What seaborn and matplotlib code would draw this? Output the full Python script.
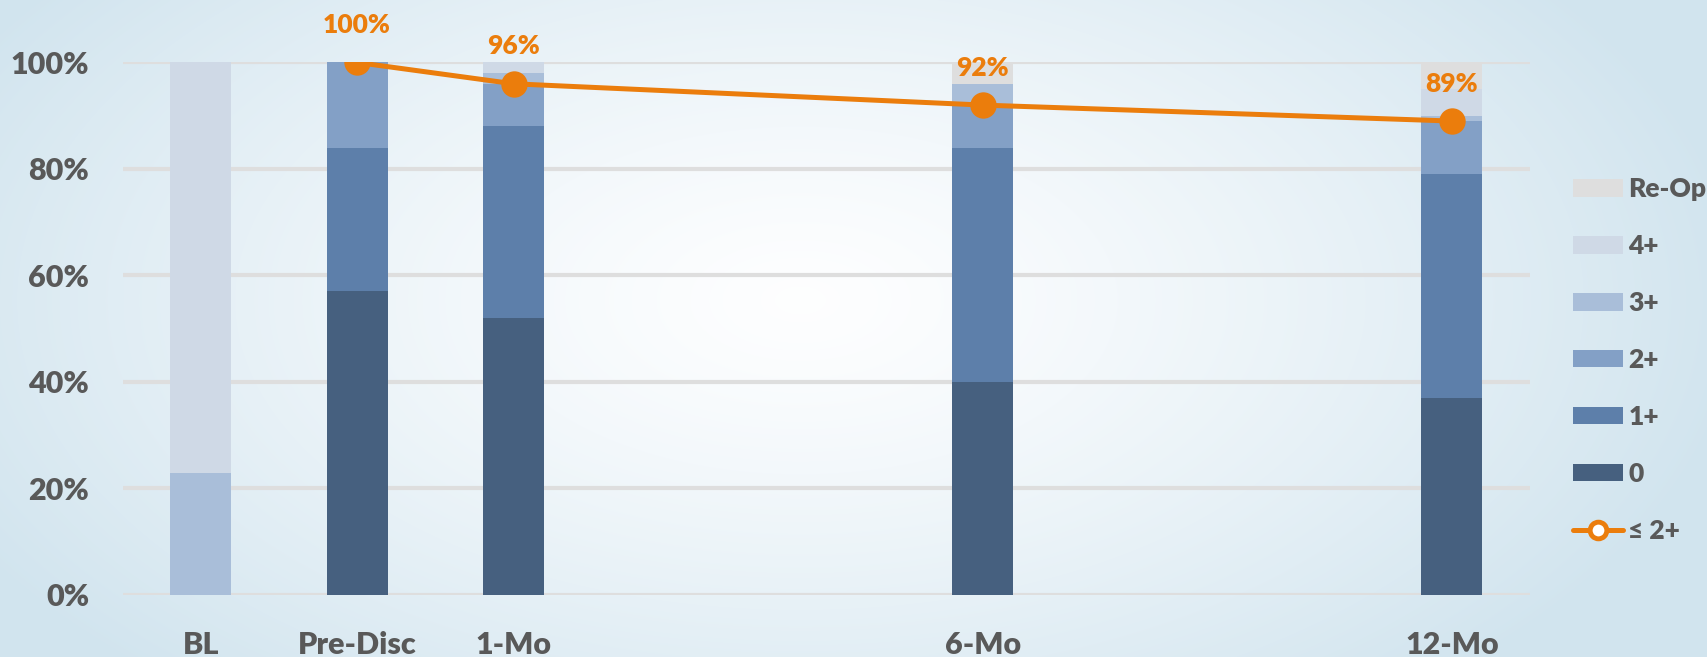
import numpy as np
import pandas as pd
import matplotlib
matplotlib.use("Agg")
import matplotlib.pyplot as plt
from matplotlib.patches import Patch
from matplotlib.lines import Line2D
import seaborn as sns

# Follow-up time points and their spacing in months-based slots
timepoints = ["BL", "Pre-Disc", "1-Mo", "6-Mo", "12-Mo"]
slot_pos = [0, 1, 2, 5, 8]

# Percent of patients per grade at each time point
grade_0 = [0, 57, 52, 40, 37]
grade_1 = [0, 27, 36, 44, 42]
grade_2 = [0, 16, 8, 8, 10]
grade_3 = [23, 0, 2, 4, 1]
grade_4 = [77, 0, 2, 0, 5]
re_op = [0, 0, 0, 4, 5]

# Share of patients at grade 2+ or below
le2_pos = [1, 2, 5, 8]
le2_pct = [100, 96, 92, 89]

series_names = ["0", "1+", "2+", "3+", "4+", "Re-Op"]
series_vals = [grade_0, grade_1, grade_2, grade_3, grade_4, re_op]
series_cols = ["#46607F", "#5D7FAA", "#83A0C6", "#A9BED9", "#CFD9E6", "#DEDEDE"]
orange = "#EB7D0C"
text_grey = "#595959"

sns.set_theme(style="white")
plt.rcParams["font.family"] = ["Lato", "DejaVu Sans"]
plt.rcParams["font.weight"] = "bold"

W, H = 1707, 657
fig = plt.figure(figsize=(W / 100, H / 100), dpi=100)

# soft radial background: white centre fading to pale blue edges
bg = fig.add_axes([0, 0, 1, 1], zorder=-10)
yy, xx = np.mgrid[0:H, 0:W]
d = np.sqrt(((xx - 800) / 950.0) ** 2 + ((yy - 300) / 520.0) ** 2)
t = np.clip(d, 0, 1) ** 1.3
centre = np.array([0.995, 0.997, 1.0])
edge = np.array([0.82, 0.895, 0.935])
img = centre[None, None, :] * (1 - t[..., None]) + edge[None, None, :] * t[..., None]
bg.imshow(img, aspect="auto", extent=[0, 1, 0, 1])
bg.axis("off")

ax = fig.add_axes([0.0718, 0.0944, 0.8245, 0.8105])
ax.set_facecolor("none")

for g in range(0, 101, 20):
    ax.axhline(g, color="#DEDEDE", lw=3, zorder=0)

# stacked bars: draw cumulative totals from the top segment down
cum = np.cumsum(np.array(series_vals), axis=0)
for i in range(len(series_names) - 1, -1, -1):
    df = pd.DataFrame({"pos": slot_pos, "top": cum[i]})
    sns.barplot(data=df, x="pos", y="top", native_scale=True, width=0.39,
                color=series_cols[i], saturation=1, errorbar=None,
                linewidth=0, ax=ax, zorder=2)

line_df = pd.DataFrame({"pos": le2_pos, "pct": le2_pct})
sns.lineplot(data=line_df, x="pos", y="pct", color=orange, lw=3.6,
             marker="o", markersize=19, markeredgewidth=0, ax=ax, zorder=5)
for x, v in zip(le2_pos, le2_pct):
    ax.annotate(f"{v}%", (x, v), xytext=(0, 27), textcoords="offset points",
                ha="center", va="center", color=orange, fontsize=19,
                fontweight="heavy", annotation_clip=False)

ax.set_xlim(-0.5, 8.5)
ax.set_ylim(0, 100)
ax.set_xticks(slot_pos)
ax.set_xticklabels(timepoints)
ax.set_yticks(range(0, 101, 20))
ax.set_yticklabels([f"{v}%" for v in range(0, 101, 20)])
ax.tick_params(axis="both", length=0, labelsize=22, labelcolor=text_grey)
ax.tick_params(axis="y", pad=24)
ax.tick_params(axis="x", pad=26)
for lab in ax.get_xticklabels() + ax.get_yticklabels():
    lab.set_fontweight("heavy")
ax.set_xlabel("")
ax.set_ylabel("")
sns.despine(ax=ax, left=True, bottom=True)

handles = [Patch(facecolor=series_cols[i], edgecolor="none")
           for i in range(len(series_names) - 1, -1, -1)]
labels = series_names[::-1]
handles.append(Line2D([0], [0], color=orange, lw=3.6, marker="o", markersize=12,
                      markerfacecolor="white", markeredgecolor=orange,
                      markeredgewidth=3.5))
labels.append("≤ 2+")
leg = fig.legend(handles, labels, loc="upper left",
                 bbox_to_anchor=(1573 / W, 1 - 177 / H), frameon=False,
                 fontsize=19, handlelength=1.9, handleheight=0.65,
                 handletextpad=0.2, labelspacing=1.25, borderpad=0,
                 borderaxespad=0)
for txt in leg.get_texts():
    txt.set_color(text_grey)
    txt.set_fontweight("heavy")

fig.savefig("out.png", dpi=100)
